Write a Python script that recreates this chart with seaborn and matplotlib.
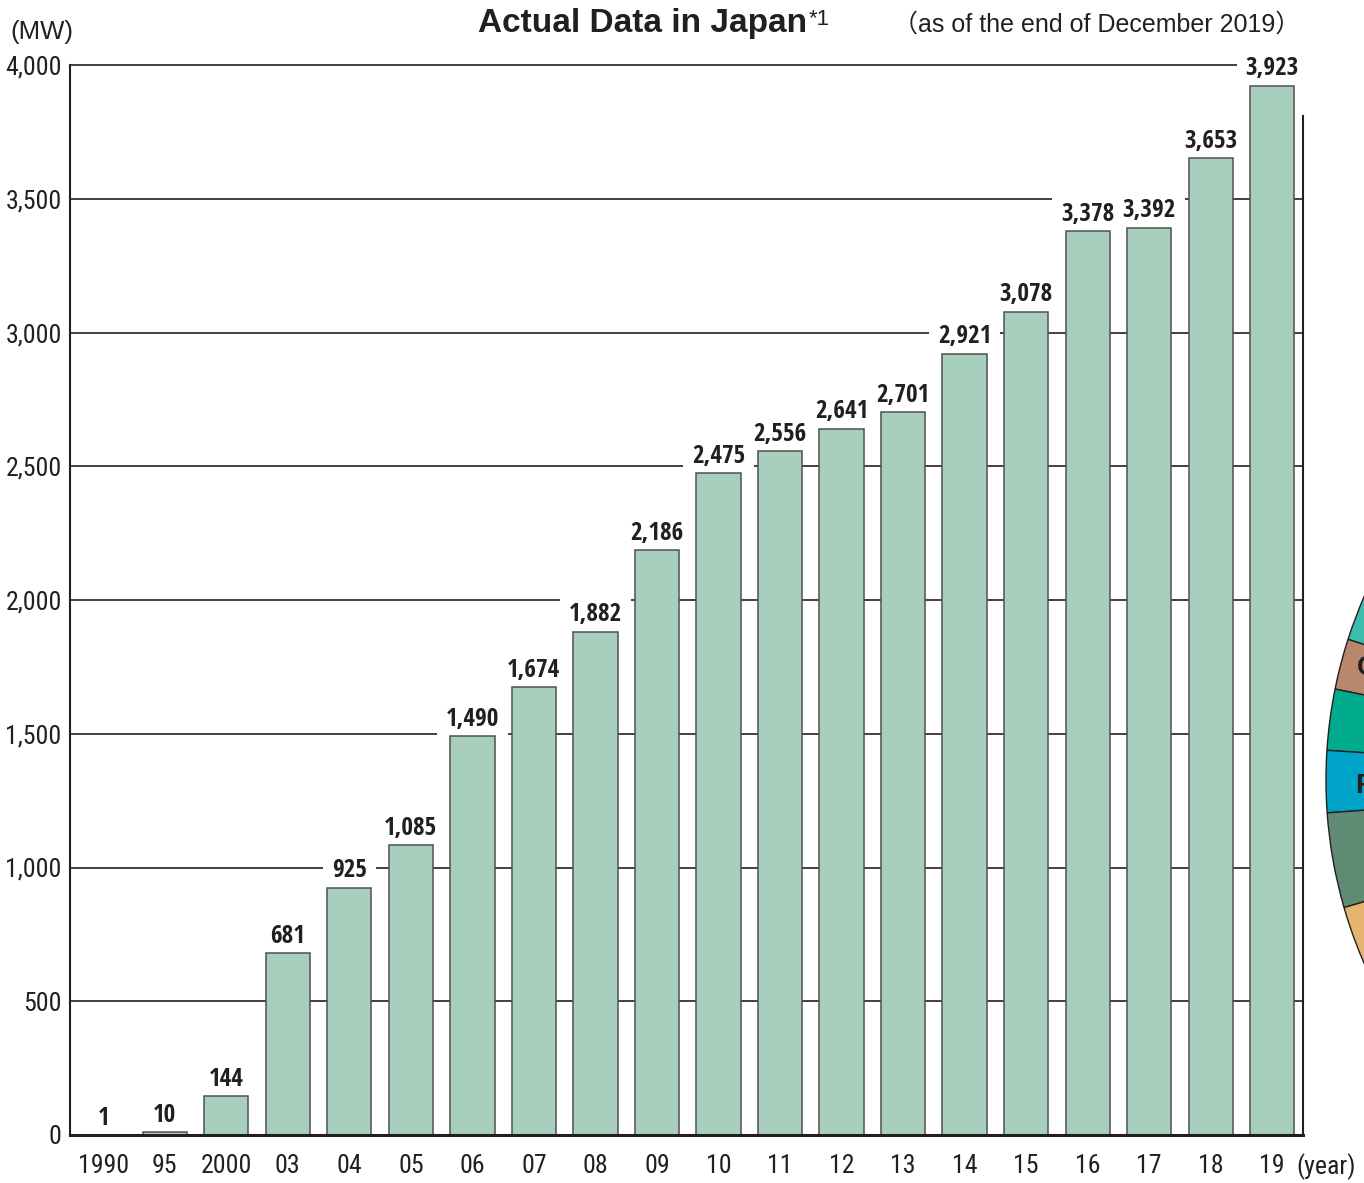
import matplotlib
matplotlib.use("Agg")
import matplotlib.pyplot as plt
from matplotlib import font_manager
import seaborn as sns
import pandas as pd

# Cumulative installed capacity (MW), end of each year
years = ["1990", "95", "2000", "03", "04", "05", "06", "07", "08", "09",
         "10", "11", "12", "13", "14", "15", "16", "17", "18", "19"]
capacity = [1, 10, 144, 681, 925, 1085, 1490, 1674, 1882, 2186,
            2475, 2556, 2641, 2701, 2921, 3078, 3378, 3392, 3653, 3923]
capacity_labels = ["1", "10", "144", "681", "925", "1,085", "1,490", "1,674",
                   "1,882", "2,186", "2,475", "2,556", "2,641", "2,701",
                   "2,921", "3,078", "3,378", "3,392", "3,653", "3,923"]
y_ticks = [0, 500, 1000, 1500, 2000, 2500, 3000, 3500, 4000]
y_tick_labels = ["0", "500", "1,000", "1,500", "2,000", "2,500",
                 "3,000", "3,500", "4,000"]

# Edge of the adjoining share chart (slice spans in degrees, counter-clockwise)
share_spans = [12.0, 6.4, 7.7, 7.8, 12.0, 19.0, 295.1]
share_colors = ["#3dbdad", "#b9876b", "#00ab8e", "#00a3c8", "#5f8b74",
                "#e6b46e", "#e6b46e"]
share_start = 150.2
share_letters = [("C", 1357, 668), ("F", 1355, 786)]

SANS = {"liberationsans", "dejavusans", "notosans", "roboto", "opensans",
        "lato", "inter"}
WIDTH_WORDS = ("narrow", "semicondensed", "extracondensed", "condensed",
               "semi", "extra", "display")


def sans_candidates():
    files = {f.fname for f in font_manager.fontManager.ttflist}
    try:
        files |= set(font_manager.findSystemFonts())
    except Exception:
        pass
    out = []
    for f in sorted(files):
        if not f.lower().endswith((".ttf", ".otf")):
            continue
        try:
            ft = font_manager.get_font(f)
        except Exception:
            continue
        fam = ft.family_name.lower().replace(" ", "")
        for w in WIDTH_WORDS:
            fam = fam.replace(w, "")
        if fam not in SANS:
            continue
        style = (ft.style_name or "").lower()
        if "italic" in style or "oblique" in style:
            continue
        out.append((f, ft, style))
    return out


CANDS = sans_candidates()


def weight_ok(style, bold):
    if bold:
        return "bold" in style and not any(s in style for s in
                                           ("semibold", "extrabold", "demibold",
                                            "ultrabold", "semi bold", "extra bold"))
    return not any(s in style for s in ("bold", "light", "thin", "medium",
                                        "black", "heavy"))


def pick_numeral_font(sample, digits, ratio, digit_px, bold):
    """Choose an installed sans face whose numerals have the wanted proportions."""
    best = None
    for f, ft, style in CANDS:
        if not weight_ok(style, bold):
            continue
        try:
            ft.set_size(100, 100)
            ft.set_text(sample, 0.0)
            w = ft.get_width_height()[0] / 64
            ft.set_text(digits, 0.0)
            h = ft.get_width_height()[1] / 64
        except Exception:
            continue
        if h <= 0:
            continue
        score = abs(w / h - ratio)
        if best is None or score < best[0]:
            best = (score, f, h)
    if best is None:
        return font_manager.FontProperties(family="Liberation Sans",
                                           weight="bold" if bold else "normal",
                                           size=17)
    _, f, h = best
    return font_manager.FontProperties(fname=f, size=100 * digit_px / h)


label_fp = pick_numeral_font("3,923", "3923", 51 / 18.5, 18.5, True)
tick_fp = pick_numeral_font("1990", "1990", 46 / 19, 19, False)

sns.set_theme(style="white")
plt.rcParams["font.family"] = ["Liberation Sans", "Noto Sans CJK JP", "DejaVu Sans"]

W, H = 1364, 1183
fig = plt.figure(figsize=(W / 100, H / 100), dpi=100)
fig.patch.set_facecolor("white")


def fx(px):
    return px / W


def fy(py):
    return 1 - py / H


# main bar axes: x from 70 to 1303 px, y=0 at 1135 px, y=4000 at 65 px
px_per_mw = (1135 - 65) / 4000
ytop = 4012
ax_top = 1135 - ytop * px_per_mw
ax = fig.add_axes([fx(70), fy(1135), fx(1303 - 70), (1135 - ax_top) / H])

df = pd.DataFrame({"year": years, "capacity": capacity})
sns.barplot(data=df, x="year", y="capacity", color="#a8cebd", saturation=1,
            width=0.72, edgecolor="#505050", linewidth=1.1, ax=ax, zorder=3)

ax.set_xlim(-0.54, 19.5)
ax.set_ylim(0, ytop)
ax.set_xlabel("")
ax.set_ylabel("")
ax.set_facecolor("white")

ax.set_yticks(y_ticks)
ax.set_yticklabels(y_tick_labels, fontproperties=tick_fp, color="#231f20")
ax.set_xticks(range(len(years)))
ax.set_xticklabels(years, fontproperties=tick_fp, color="#231f20")
ax.tick_params(axis="y", length=0, pad=6)
ax.tick_params(axis="x", length=0, pad=14)

ax.yaxis.grid(True, color="#231f20", linewidth=1.2, zorder=1)
ax.xaxis.grid(False)
ax.set_axisbelow(True)

ax.spines["top"].set_visible(False)
ax.spines["left"].set_color("#231f20")
ax.spines["left"].set_linewidth(1.5)
ax.spines["left"].set_bounds(0, 4000)
ax.spines["bottom"].set_color("#231f20")
ax.spines["bottom"].set_linewidth(2.2)
ax.spines["right"].set_color("#231f20")
ax.spines["right"].set_linewidth(1.5)
ax.spines["right"].set_bounds(0, 3810)
for sp in ax.spines.values():
    sp.set_zorder(4)

# value labels with a white backing that breaks the grid lines
for i, (v, lab) in enumerate(zip(capacity, capacity_labels)):
    ax.annotate(lab, (i, v), xytext=(0, 3), textcoords="offset points",
                ha="center", va="bottom", fontproperties=label_fp,
                color="#231f20", zorder=2.5,
                bbox=dict(facecolor="white", edgecolor="none",
                          boxstyle="square,pad=0.35"))

# titles and unit labels
fig.text(fx(807), fy(32), "Actual Data in Japan", ha="right", va="baseline",
         fontsize=24, fontweight="bold", color="#231f20")
fig.text(fx(809), fy(25), "*1", ha="left", va="baseline",
         fontsize=16, color="#231f20")
fig.text(fx(1300), fy(32), "（as of the end of December 2019）", ha="right",
         va="baseline", fontsize=18, color="#231f20")
fig.text(fx(10), fy(32), "(MW)", ha="left", va="center", fontsize=18.5,
         color="#231f20")
fig.text(fx(1296), fy(1167), "(year)", ha="left", va="center",
         fontproperties=tick_fp, color="#231f20")

# adjoining share chart, mostly beyond the right edge
r_px = 460
cx, cy = 1786, 780
pax = fig.add_axes([fx(cx - r_px), fy(cy + r_px), 2 * r_px / W, 2 * r_px / H])
pax.pie(share_spans, colors=share_colors, startangle=share_start,
        counterclock=True, radius=1,
        wedgeprops=dict(edgecolor="#231f20", linewidth=1.0))
pax.set_xlim(-1, 1)
pax.set_ylim(-1, 1)
pax.set_aspect("equal")
pax.axis("off")
for letter, lx, ly in share_letters:
    fig.text(fx(lx), fy(ly), letter, ha="left", va="center", fontsize=20,
             fontweight="bold", color="#231f20")

fig.savefig("out.png", dpi=100, facecolor="white")
